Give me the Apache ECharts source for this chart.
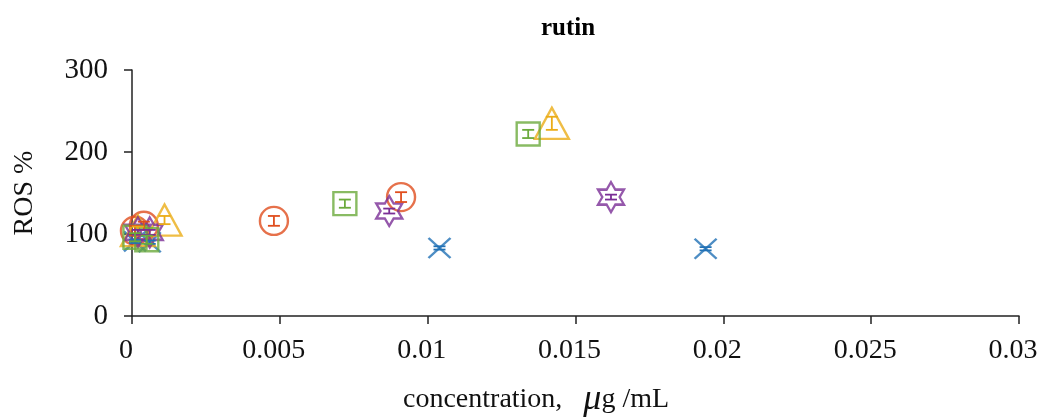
<!DOCTYPE html>
<html>
<head>
<meta charset="utf-8">
<script src="https://cdn.jsdelivr.net/npm/echarts@6/dist/echarts.min.js"></script>
<style>html,body{margin:0;padding:0;background:#fff}#c{width:1039px;height:420px}</style>
</head>
<body>
<div id="c"></div>
<script>
// ---- data (x = concentration µg/mL, y = ROS %, e = error) ----
const blueX   = [0.0001, 0.0006, 0.0104, 0.0194];
const blueY   = [91, 90, 83, 82];
const blueE   = [2, 2, 2, 2];

const orangeX = [0.0001, 0.0004, 0.0048, 0.0091];
const orangeY = [104, 110, 116, 145];
const orangeE = [6, 5, 6, 6];

const yellowX = [0.0002, 0.0011, 0.0142];
const yellowY = [104, 117, 235];
const yellowE = [5, 5, 8];

const purpleX = [0.0002, 0.0006, 0.0087, 0.0162];
const purpleY = [102, 102, 128, 145];
const purpleE = [3, 3, 3, 3];

const greenX  = [0.0001, 0.0005, 0.0072, 0.0134];
const greenY  = [96, 93, 137, 222];
const greenE  = [5, 5, 5, 5];

const xTicks = [0, 0.005, 0.01, 0.015, 0.02, 0.025, 0.03];
const yTicks = [0, 100, 200, 300];

const FONT = "'Liberation Serif','Times New Roman',serif";
const STAR = 'path://M100,0 L128.9,50 L186.6,50 L157.7,100 L186.6,150 L128.9,150 L100,200 L71.1,150 L13.4,150 L42.3,100 L13.4,50 L71.1,50 Z';
const CROSS = 'path://M0,0 L100,100 M100,0 L0,100';

function pts(xs, ys) { return xs.map((x, i) => [x, ys[i]]); }
function errPts(xs, ys, es) { return xs.map((x, i) => [x, ys[i], es[i]]); }

function scatter(name, xs, ys, color, symbol, size) {
  return {
    name, type: 'scatter', data: pts(xs, ys), symbol, symbolSize: size,
    itemStyle: { color: 'rgba(0,0,0,0)', borderColor: color, borderWidth: 2.4 },
    emphasis: { disabled: true }, z: 3
  };
}
function errorBars(name, xs, ys, es, color) {
  return {
    name: name + ' err', type: 'custom', data: errPts(xs, ys, es), z: 4,
    renderItem: function (params, api) {
      const x = api.value(0), y = api.value(1), e = api.value(2);
      const top = api.coord([x, y + e]);
      const bot = api.coord([x, y - e]);
      const w = 6;
      const st = { stroke: color, lineWidth: 1.8, fill: null };
      return {
        type: 'group', children: [
          { type: 'line', shape: { x1: top[0], y1: top[1], x2: bot[0], y2: bot[1] }, style: st },
          { type: 'line', shape: { x1: top[0] - w, y1: top[1], x2: top[0] + w, y2: top[1] }, style: st },
          { type: 'line', shape: { x1: bot[0] - w, y1: bot[1], x2: bot[0] + w, y2: bot[1] }, style: st }
        ]
      };
    }
  };
}

const C = { blue: '#2171B5', orange: '#E04E1E', yellow: '#EBAC16', purple: '#7A2E96', green: '#6BAA3C' };
const AX = '#222';

const chart = echarts.init(document.getElementById('c'));
chart.setOption({
  animation: false,
  backgroundColor: '#fff',
  title: {
    text: 'rutin', left: 563, top: 11, textAlign: 'center',
    textStyle: { fontFamily: FONT, fontWeight: 'bold', fontSize: 25, color: '#000' }
  },
  grid: { left: 132, right: 20, top: 70, bottom: 104, outerBoundsMode: 'none', containLabel: false },
  xAxis: {
    type: 'value', min: 0, max: 0.03, interval: 0.005,
    axisLine: { lineStyle: { color: AX, width: 1.5 } },
    axisTick: { show: true, length: 8, lineStyle: { color: AX, width: 1.5 } },
    splitLine: { show: false },
    axisLabel: {
      fontFamily: FONT, fontSize: 28, color: '#111', margin: 21, padding: [0, 12, 0, 0],
      showMinLabel: true, showMaxLabel: true, hideOverlap: false,
      formatter: v => { const t = xTicks.find(k => Math.abs(k - v) < 1e-9); return t === undefined ? '' : String(t); }
    }
  },
  yAxis: {
    type: 'value', min: 0, max: 300, interval: 100,
    name: 'ROS %', nameLocation: 'middle', nameGap: 93, nameRotate: 90,
    nameTextStyle: { fontFamily: FONT, fontSize: 28, color: '#111' },
    axisLine: { show: true, lineStyle: { color: AX, width: 1.5 } },
    axisTick: { show: true, length: 8, lineStyle: { color: AX, width: 1.5 } },
    splitLine: { show: false },
    axisLabel: {
      fontFamily: FONT, fontSize: 29, color: '#111', margin: 24,
      formatter: v => yTicks.includes(v) ? String(v) : ''
    }
  },
  graphic: [{
    type: 'text', left: 403, top: 382,
    style: {
      text: '{a|concentration,   }{mu|μ}{a|g /mL}',
      rich: {
        a: { fontFamily: FONT, fontSize: 28, fill: '#111' },
        mu: { fontFamily: FONT, fontSize: 36, fontStyle: 'italic', fill: '#111' }
      }
    }
  }],
  series: [
    scatter('blue', blueX, blueY, C.blue, CROSS, [22, 20]),
    scatter('orange', orangeX, orangeY, C.orange, 'circle', 28),
    scatter('yellow', yellowX, yellowY, C.yellow, 'triangle', [34, 31]),
    scatter('purple', purpleX, purpleY, C.purple, STAR, [26, 30]),
    scatter('green', greenX, greenY, C.green, 'rect', 23),
    errorBars('blue', blueX, blueY, blueE, C.blue),
    errorBars('orange', orangeX, orangeY, orangeE, C.orange),
    errorBars('yellow', yellowX, yellowY, yellowE, C.yellow),
    errorBars('purple', purpleX, purpleY, purpleE, C.purple),
    errorBars('green', greenX, greenY, greenE, C.green)
  ]
});
</script>
</body>
</html>
